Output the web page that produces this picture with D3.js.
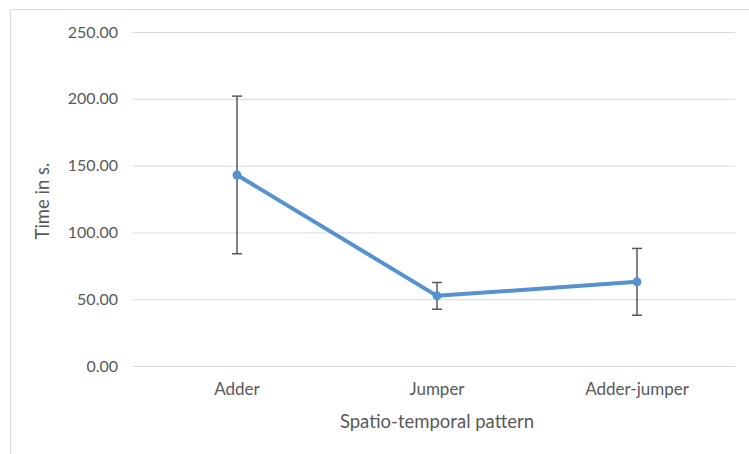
<!DOCTYPE html>
<html><head><meta charset="utf-8">
<script src="https://cdn.jsdelivr.net/npm/d3@7"></script>
<style>body{margin:0;background:#fff}svg{display:block}</style>
</head><body>
<script>
const categories = ["Adder", "Jumper", "Adder-jumper"];
const means = [143, 52.5, 63];
const errors = [59, 10, 25];
const yTicks = [0, 50, 100, 150, 200, 250];
const xTitle = "Spatio-temporal pattern";
const yTitle = "Time in s.";

const W = 749, H = 454;
const svg = d3.select("body").append("svg").attr("width", W).attr("height", H);
svg.append("rect").attr("x", 10.5).attr("y", 9.5).attr("width", W).attr("height", H)
  .attr("fill", "#fff").attr("stroke", "#dcdcdc");

const x = d3.scaleBand().domain(categories).range([137, 737]);
const y = d3.scaleLinear().domain([0, 250]).range([366, 32]);
const font = "Lato, 'Open Sans', sans-serif";

const yAxis = svg.append("g").attr("transform", "translate(133,0)")
  .call(d3.axisLeft(y).tickValues(yTicks).tickFormat(d3.format(".2f")).tickSize(-602).tickPadding(15));
yAxis.select(".domain").remove();
yAxis.selectAll(".tick line").attr("stroke", "#d9d9d9").attr("stroke-width", 1);
yAxis.selectAll(".tick text").attr("fill", "#595959").attr("font-size", 16).attr("font-family", font);

const xAxis = svg.append("g").attr("transform", "translate(0,366)")
  .call(d3.axisBottom(x).tickSize(0).tickPadding(17));
xAxis.select(".domain").remove();
xAxis.selectAll(".tick text").attr("fill", "#595959").attr("font-size", 17).attr("font-family", font);

svg.append("text").attr("x", 437).attr("y", 428).attr("text-anchor", "middle")
  .attr("fill", "#595959").attr("font-size", 18.5).attr("font-family", font).text(xTitle);
svg.append("text").attr("transform", "translate(49,201) rotate(-90)").attr("text-anchor", "middle")
  .attr("fill", "#595959").attr("font-size", 18.5).attr("font-family", font).text(yTitle);

const data = categories.map((c, i) => ({c, m: means[i], e: errors[i]}));
const cx = d => x(d.c) + x.bandwidth() / 2;

svg.append("path").datum(data)
  .attr("d", d3.line().x(cx).y(d => y(d.m)))
  .attr("fill", "none").attr("stroke", "#5592cf").attr("stroke-width", 4).attr("stroke-linejoin", "round");

const eb = svg.append("g").selectAll("g").data(data).join("g").attr("stroke", "#595959").attr("stroke-width", 1.5);
eb.append("line").attr("x1", cx).attr("x2", cx).attr("y1", d => y(d.m + d.e)).attr("y2", d => y(d.m - d.e));
eb.append("line").attr("x1", d => cx(d) - 5).attr("x2", d => cx(d) + 5).attr("y1", d => y(d.m + d.e)).attr("y2", d => y(d.m + d.e));
eb.append("line").attr("x1", d => cx(d) - 5).attr("x2", d => cx(d) + 5).attr("y1", d => y(d.m - d.e)).attr("y2", d => y(d.m - d.e));

svg.append("g").selectAll("circle").data(data).join("circle")
  .attr("cx", cx).attr("cy", d => y(d.m)).attr("r", 4.5).attr("fill", "#5592cf");
</script>
</body></html>
